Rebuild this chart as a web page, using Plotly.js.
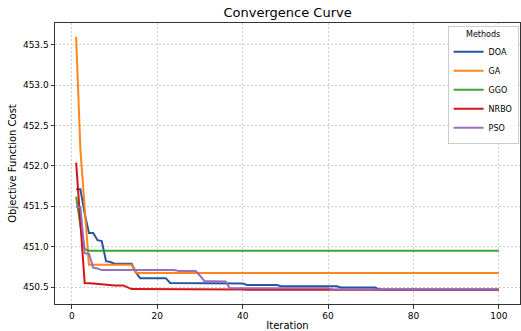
<!DOCTYPE html>
<html>
<head>
<meta charset="utf-8">
<script src="https://cdn.plot.ly/plotly-3.0.1.min.js"></script>
<style>html,body{margin:0;padding:0;background:#fff;}#chart{width:521px;height:331px;}</style>
</head>
<body>
<div id="chart"></div>
<script>
// Iterations where each curve changes
const doaIter = [1,2,3,4,5,6,7,8,9,10,14,15,16,22,23,40,41,48,49,62,63,71,72,100];
const doaCost = [451.71,451.71,451.41,451.17,451.17,451.08,451.07,450.82,450.81,450.79,450.79,450.68,450.61,450.61,450.55,450.545,450.525,450.525,450.51,450.51,450.495,450.495,450.47,450.47];

const gaIter = [1,2,3,4,14,15,100];
const gaCost = [453.6,452.2,451.48,450.775,450.775,450.675,450.675];

const ggoIter = [1,2,3,4,100];
const ggoCost = [451.62,451.26,450.97,450.95,450.95];

const nrboIter = [1,2,3,5,6,7,8,9,10,12,13,14,40,41,100];
const nrboCost = [452.04,451.3,450.55,450.545,450.54,450.535,450.53,450.525,450.52,450.52,450.50,450.475,450.47,450.465,450.465];

const psoIter = [1,2,3,4,5,6,7,24,25,29,30,31,36,37,60,61,100];
const psoCost = [451.49,451.49,450.92,450.91,450.74,450.73,450.71,450.71,450.70,450.70,450.64,450.575,450.57,450.485,450.485,450.47,450.47];

const methods = ["DOA","GA","GGO","NRBO","PSO"];
const colors = ["#1a4d9c","#ff7f0e","#2ca02c","#d10a0a","#9467bd"];
const xTickVals = [0,20,40,60,80,100];
const yTickVals = [450.5,451.0,451.5,452.0,452.5,453.0,453.5];

const series = [[doaIter,doaCost],[gaIter,gaCost],[ggoIter,ggoCost],[nrboIter,nrboCost],[psoIter,psoCost]];
const traces = series.map((s,i)=>({
  x: s[0], y: s[1], name: methods[i], type: "scatter", mode: "lines",
  line: {color: colors[i], width: 2}, opacity: 0.95
}));

const layout = {
  width: 521, height: 331,
  margin: {l: 55, r: 1, t: 23, b: 27},
  paper_bgcolor: "#fff", plot_bgcolor: "#fff",
  font: {family: "DejaVu Sans", size: 9, color: "#000"},
  title: {text: "Convergence Curve", font: {family: "DejaVu Sans", size: 13, color: "#000"}, x: 0.552, xanchor: "center", y: 0.975, yanchor: "top"},
  xaxis: {
    range: [-3.95, 104.95], tickvals: xTickVals, ticktext: xTickVals.map(String),
    showgrid: true, gridcolor: "#c4c4c4", griddash: "2px,2px", gridwidth: 0.8,
    showline: true, mirror: true, linecolor: "#333", linewidth: 1,
    ticks: "outside", ticklen: 3.5, tickcolor: "#333", zeroline: false,
    tickfont: {family: "DejaVu Sans", size: 9, color: "#000"},
    title: {text: "Iteration", font: {family: "DejaVu Sans", size: 10, color: "#000"}, standoff: 4}
  },
  yaxis: {
    range: [450.29, 453.77], tickvals: yTickVals, ticktext: yTickVals.map(v=>v.toFixed(1)),
    showgrid: true, gridcolor: "#c4c4c4", griddash: "2px,2px", gridwidth: 0.8,
    showline: true, mirror: true, linecolor: "#333", linewidth: 1,
    ticks: "outside", ticklen: 3.5, tickcolor: "#333", zeroline: false,
    tickfont: {family: "DejaVu Sans", size: 9, color: "#000"},
    title: {text: "Objective Function Cost", font: {family: "DejaVu Sans", size: 10, color: "#000"}, standoff: 4}
  },
  legend: {
    x: 0.997, y: 0.99, xanchor: "right", yanchor: "top",
    bgcolor: "rgba(255,255,255,0.85)", bordercolor: "#ccc", borderwidth: 1,
    font: {family: "DejaVu Sans", size: 8, color: "#000"},
    title: {text: "Methods", side: "top center", font: {family: "DejaVu Sans", size: 8, color: "#000"}},
    itemwidth: 30, tracegroupgap: 0
  },
  showlegend: true
};
Plotly.newPlot("chart", traces, layout, {displayModeBar: false, staticPlot: true});
</script>
</body>
</html>
